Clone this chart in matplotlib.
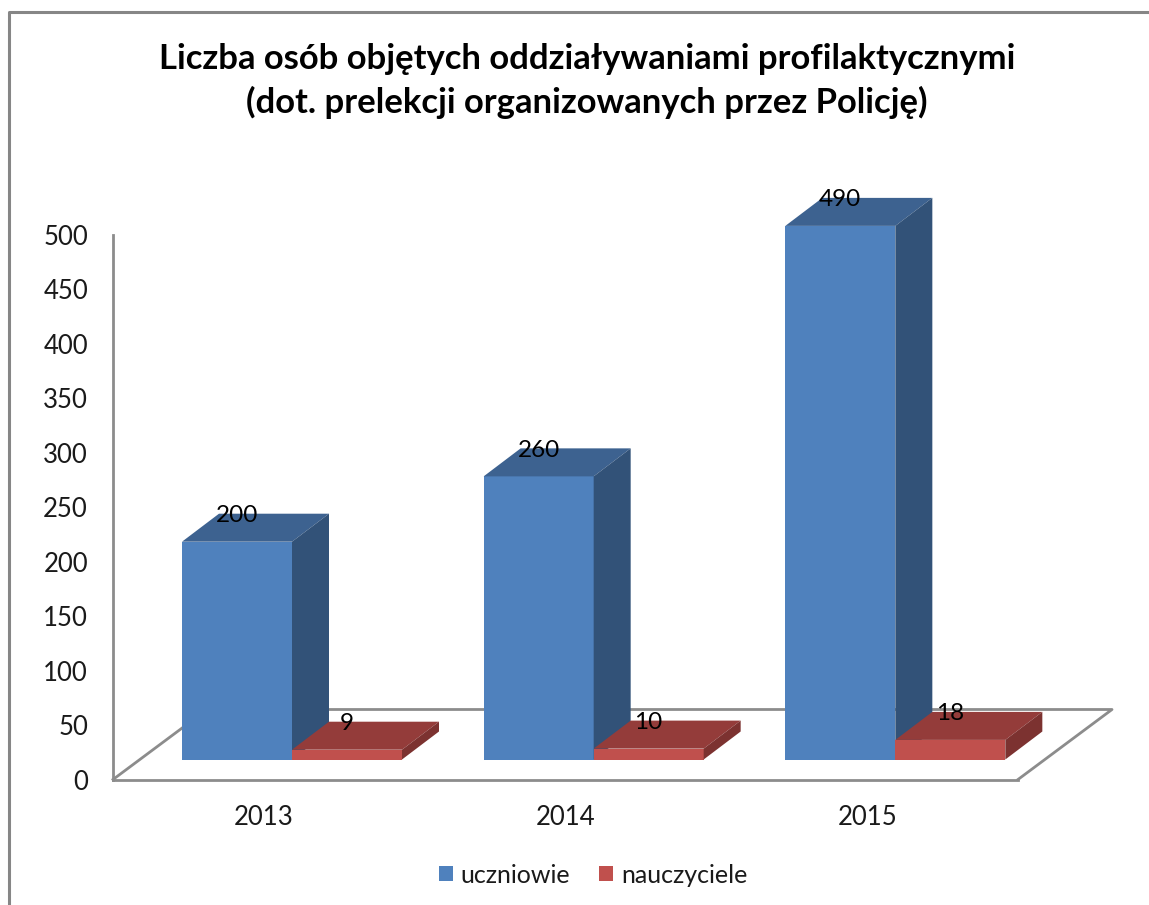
import matplotlib
matplotlib.use("Agg")
import matplotlib.pyplot as plt
from matplotlib.lines import Line2D

years = ["2013", "2014", "2015"]
uczniowie = [200, 260, 490]
nauczyciele = [9, 10, 18]
y_ticks = [0, 50, 100, 150, 200, 250, 300, 350, 400, 450, 500]
title = "Liczba osób objętych oddziaływaniami profilaktycznymi\n(dot. prelekcji organizowanych przez Policję)"

W, H = 1149, 905
plt.rcParams["font.family"] = ["Lato", "DejaVu Sans"]

fig = plt.figure(figsize=(W / 100, H / 100), dpi=100)

# plot box in pixels of the picture: floor front edge and top of the y axis
left, right, bottom, top = 113, 1018, 779.5, 235
ax = fig.add_axes([left / W, 1 - bottom / H, (right - left) / W, (bottom - top) / H])
ax.set_xlim(-0.5, 2.5)
ax.set_ylim(0, 500)
ax.patch.set_visible(False)

px_x = 3 / (right - left)  # data units per pixel
px_y = 500 / (bottom - top)

bar_w = 110 * px_x
bar_dx = 37 * px_x  # depth of a bar
bar_dy = 28 * px_y
base = 20 * px_y  # bars stand a bit behind the front of the floor
floor_dx = 94 * px_x
floor_dy = 70 * px_y

GRID = "#8c8c8c"
for sp in ["top", "right"]:
    ax.spines[sp].set_visible(False)
for sp in ["left", "bottom"]:
    ax.spines[sp].set_color(GRID)
    ax.spines[sp].set_linewidth(2)

# floor outline, behind the bars
x0, x1 = -0.5, 2.5
ax.plot([x0, x0 + floor_dx, x1 + floor_dx, x1], [0, floor_dy, floor_dy, 0],
        color=GRID, lw=2, clip_on=False, zorder=1)


def draw_box(x, value, front, top_col, side_col, label, z):
    y0, y1 = base, base + value
    bar = ax.bar(x, value, bar_w, bottom=base, align="edge", color=front, label=label,
                 zorder=z, clip_on=False)
    ax.fill([x, x + bar_dx, x + bar_w + bar_dx, x + bar_w],
            [y1, y1 + bar_dy, y1 + bar_dy, y1], color=top_col, lw=0, zorder=z, clip_on=False)
    ax.fill([x + bar_w, x + bar_w + bar_dx, x + bar_w + bar_dx, x + bar_w],
            [y0, y0 + bar_dy, y1 + bar_dy, y1], color=side_col, lw=0, zorder=z, clip_on=False)
    ax.text(x + bar_w / 2, y1 + bar_dy - 2 * px_y, str(value), ha="center", va="center",
            fontsize=17.5, color="black", zorder=10, clip_on=False)
    return bar


for i in range(len(years)):
    x_blue = i - 0.5 + (69 * px_x)
    draw_box(x_blue, uczniowie[i], "#4f81bd", "#3d6290", "#325278",
             "uczniowie" if i == 0 else None, 3)
    draw_box(x_blue + bar_w, nauczyciele[i], "#c0504d", "#943c3a", "#7c3230",
             "nauczyciele" if i == 0 else None, 4)

ax.set_xticks(range(len(years)))
ax.set_xticklabels(years)
ax.set_yticks(y_ticks)
ax.tick_params(axis="both", length=0, labelsize=18.5, labelcolor="#1a1a1a")
ax.tick_params(axis="x", pad=18)
ax.tick_params(axis="y", pad=18)

fig.text(587 / W, 1 - 81 / H, title, ha="center", va="center", fontsize=24.9, fontweight="bold",
         color="black", linespacing=1.42)

# chart frame, cut off by the right and bottom of the picture
fig.add_artist(Line2D([9 / W, 9 / W, 1], [0, 1 - 12 / H, 1 - 12 / H], color="#868686", lw=2.2))

h, l = ax.get_legend_handles_labels()
fig.legend(h, l, ncol=2, frameon=False, fontsize=18,
           loc="center", bbox_to_anchor=(593 / W, 1 - 875 / H), handlelength=0.56, handleheight=0.56,
           handletextpad=0.32, columnspacing=1.16, labelcolor="#1a1a1a")

fig.savefig("out.png", dpi=100)
